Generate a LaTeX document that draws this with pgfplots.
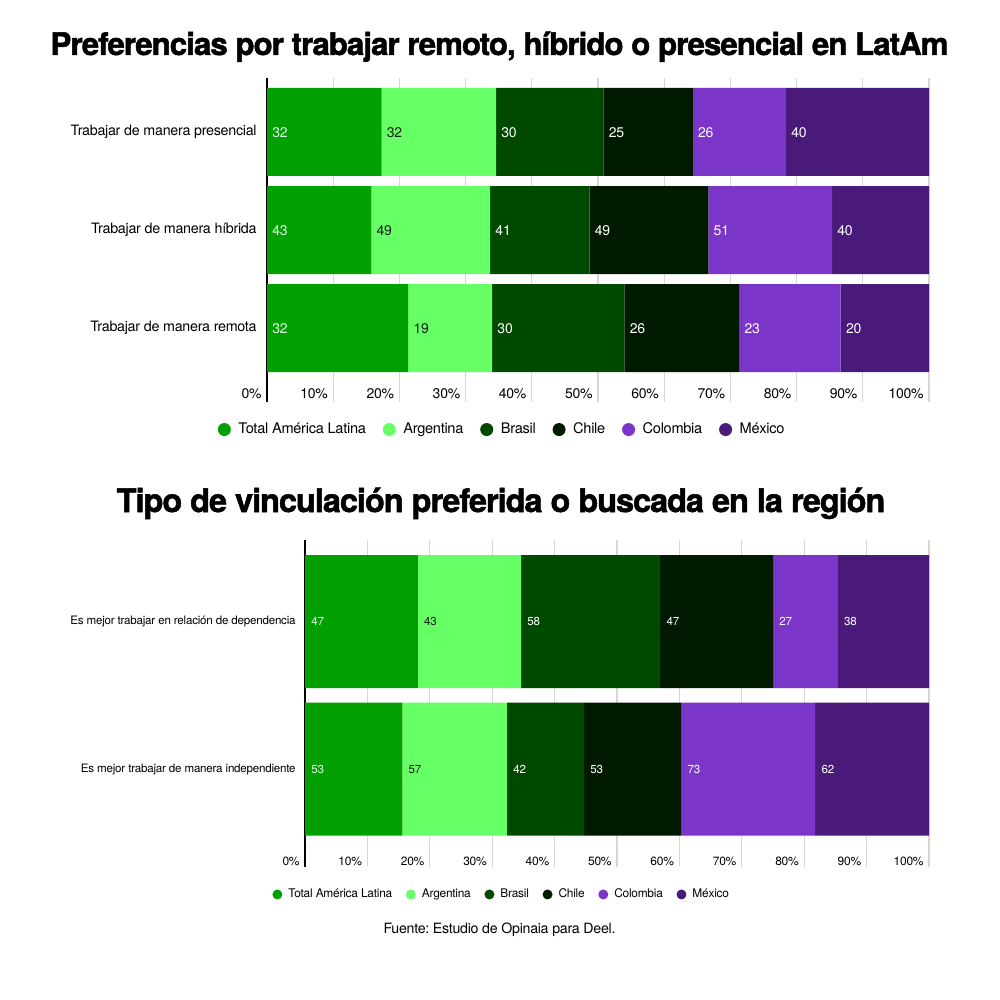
\documentclass[border=0pt]{standalone}
\usepackage{fontspec}
\setmainfont{TeX Gyre Heros}[LetterSpace=-2]
\newfontfamily\titlefont{TeX Gyre Heros}[LetterSpace=-3, FakeBold=1.6]
\usepackage{pgfplots}
\usepackage{pgfplotstable}
\pgfplotsset{compat=1.18}
\definecolor{cT}{RGB}{3,160,3}
\definecolor{cA}{RGB}{102,255,102}
\definecolor{cB}{RGB}{0,74,0}
\definecolor{cC}{RGB}{0,26,0}
\definecolor{cCo}{RGB}{123,53,200}
\definecolor{cM}{RGB}{74,26,122}
\definecolor{gridc}{RGB}{215,215,215}
\definecolor{lT}{RGB}{225,255,225}
\definecolor{lA}{RGB}{20,30,20}

\pgfplotstableread{
y t ar br cl co mx
0 32 19 30 26 23 20
1 43 49 41 49 51 40
2 32 32 30 25 26 40
}\dataA
\pgfplotstableread{
y t ar br cl co mx
0 53 57 42 53 73 62
1 47 43 58 47 27 38
}\dataB
\newcommand{\totr}{(\thisrow{t}+\thisrow{ar}+\thisrow{br}+\thisrow{cl}+\thisrow{co}+\thisrow{mx})}

\pgfplotsset{
  lgA/.style={legend image code/.code={\fill[##1,draw=none] (3.25pt,0pt) circle (3.25pt);}},
  lgB/.style={legend image code/.code={\fill[##1,draw=none] (2.5pt,0pt) circle (2.5pt);}},
  common/.style={
    scale only axis, xmin=0, xmax=100,
    /pgf/number format/assume math mode=true,
  },
  frame/.style={
    common,
    xbar stacked,
    axis lines*=left,
    x axis line style={draw=none},
    y axis line style={black, line width=1pt},
    major tick length=0pt,
    xtick={0,10,...,100},
    xticklabels={0\%,10\%,20\%,30\%,40\%,50\%,60\%,70\%,80\%,90\%,100\%},
    xmajorgrids, grid style={draw=gridc, line width=0.6pt},
  },
  over/.style={common, hide axis},
}

\begin{document}
\frenchspacing
\begin{tikzpicture}
\path[use as bounding box] (0,0) rectangle (500pt,-500pt);

\node[anchor=base, font=\titlefont\bfseries\fontsize{15.6}{18}\selectfont] at (249.75pt,-27.5pt) {Preferencias por trabajar remoto, híbrido o presencial en LatAm};
\node[anchor=base, font=\titlefont\bfseries\fontsize{16.2}{18}\selectfont] at (250.5pt,-256pt) {Tipo de vinculación preferida o buscada en la región};

% ---------------- Chart 1
\begin{axis}[frame,
  at={(133.5pt,-201pt)}, anchor=south west,
  width=331pt, height=162pt, bar width=44pt,
  ymin=-0.755, ymax=2.551,
  xticklabel style={anchor=south east, inner sep=0pt, xshift=-2.5pt, yshift=1.6pt, font=\fontsize{7}{8}\selectfont},
  ytick={0,1,2},
  yticklabels={Trabajar de manera remota, Trabajar de manera híbrida, Trabajar de manera presencial},
  yticklabel style={anchor=east, inner sep=0pt, xshift=-5pt, font=\fontsize{7.15}{9}\selectfont},
  legend columns=6,
  legend style={draw=none, fill=none, inner sep=0pt, at={(-0.0748,-0.0850)}, anchor=west,
    font=\fontsize{7.3}{9}\selectfont,
    /tikz/every odd column/.append style={column sep=1.8pt},
    /tikz/every even column/.append style={column sep=6.4pt}},
]
\addplot[fill=cT, draw=none, lgA] table[x expr=\thisrow{t}*100/\totr, y=y]{\dataA};
\addlegendentry{Total América Latina}
\addplot[fill=cA, draw=none, lgA] table[x expr=\thisrow{ar}*100/\totr, y=y]{\dataA};
\addlegendentry{Argentina}
\addplot[fill=cB, draw=none, lgA] table[x expr=\thisrow{br}*100/\totr, y=y]{\dataA};
\addlegendentry{Brasil}
\addplot[fill=cC, draw=none, lgA] table[x expr=\thisrow{cl}*100/\totr, y=y]{\dataA};
\addlegendentry{Chile}
\addplot[fill=cCo, draw=none, lgA] table[x expr=\thisrow{co}*100/\totr, y=y]{\dataA};
\addlegendentry{Colombia}
\addplot[fill=cM, draw=none, lgA] table[x expr=\thisrow{mx}*100/\totr, y=y]{\dataA};
\addlegendentry{México}
\end{axis}

\begin{axis}[over,
  at={(133.5pt,-201pt)}, anchor=south west,
  width=331pt, height=162pt,
  ymin=-0.755, ymax=2.551,
  every node near coord/.append style={anchor=west, inner sep=0pt, xshift=2.5pt, yshift=-0.4pt, font=\fontsize{7}{8}\selectfont},
]
\addplot[draw=none, mark=none, nodes near coords, point meta=explicit, every node near coord/.append style={text=lT}]
  table[x expr=0, y=y, meta=t]{\dataA};
\addplot[draw=none, mark=none, nodes near coords, point meta=explicit, every node near coord/.append style={text=lA}]
  table[x expr=\thisrow{t}*100/\totr, y=y, meta=ar]{\dataA};
\addplot[draw=none, mark=none, nodes near coords, point meta=explicit, every node near coord/.append style={text=white}]
  table[x expr=(\thisrow{t}+\thisrow{ar})*100/\totr, y=y, meta=br]{\dataA};
\addplot[draw=none, mark=none, nodes near coords, point meta=explicit, every node near coord/.append style={text=white}]
  table[x expr=(\thisrow{t}+\thisrow{ar}+\thisrow{br})*100/\totr, y=y, meta=cl]{\dataA};
\addplot[draw=none, mark=none, nodes near coords, point meta=explicit, every node near coord/.append style={text=white}]
  table[x expr=(\thisrow{t}+\thisrow{ar}+\thisrow{br}+\thisrow{cl})*100/\totr, y=y, meta=co]{\dataA};
\addplot[draw=none, mark=none, nodes near coords, point meta=explicit, every node near coord/.append style={text=white}]
  table[x expr=(\thisrow{t}+\thisrow{ar}+\thisrow{br}+\thisrow{cl}+\thisrow{co})*100/\totr, y=y, meta=mx]{\dataA};
\end{axis}

% ---------------- Chart 2
\begin{axis}[frame,
  at={(152.5pt,-433.5pt)}, anchor=south west,
  width=312pt, height=163.5pt, bar width=66.5pt,
  ymin=-0.664, ymax=1.553,
  xticklabel style={anchor=south east, inner sep=0pt, xshift=-2.5pt, yshift=0.3pt, font=\fontsize{6}{7}\selectfont},
  ytick={0,1},
  yticklabels={Es mejor trabajar de manera independiente, Es mejor trabajar en relación de dependencia},
  yticklabel style={anchor=east, inner sep=0pt, xshift=-4.5pt, font=\fontsize{5.8}{7}\selectfont},
  legend columns=6,
  legend style={draw=none, fill=none, inner sep=0pt, at={(-0.0529,-0.0840)}, anchor=west,
    font=\fontsize{5.95}{7}\selectfont,
    /tikz/every odd column/.append style={column sep=1pt},
    /tikz/every even column/.append style={column sep=4.8pt}},
]
\addplot[fill=cT, draw=none, lgB] table[x expr=\thisrow{t}*100/\totr, y=y]{\dataB};
\addlegendentry{Total América Latina}
\addplot[fill=cA, draw=none, lgB] table[x expr=\thisrow{ar}*100/\totr, y=y]{\dataB};
\addlegendentry{Argentina}
\addplot[fill=cB, draw=none, lgB] table[x expr=\thisrow{br}*100/\totr, y=y]{\dataB};
\addlegendentry{Brasil}
\addplot[fill=cC, draw=none, lgB] table[x expr=\thisrow{cl}*100/\totr, y=y]{\dataB};
\addlegendentry{Chile}
\addplot[fill=cCo, draw=none, lgB] table[x expr=\thisrow{co}*100/\totr, y=y]{\dataB};
\addlegendentry{Colombia}
\addplot[fill=cM, draw=none, lgB] table[x expr=\thisrow{mx}*100/\totr, y=y]{\dataB};
\addlegendentry{México}
\end{axis}

\begin{axis}[over,
  at={(152.5pt,-433.5pt)}, anchor=south west,
  width=312pt, height=163.5pt,
  ymin=-0.664, ymax=1.553,
  every node near coord/.append style={anchor=west, inner sep=0pt, xshift=3pt, font=\fontsize{5.8}{7}\selectfont},
]
\addplot[draw=none, mark=none, nodes near coords, point meta=explicit, every node near coord/.append style={text=lT}]
  table[x expr=0, y=y, meta=t]{\dataB};
\addplot[draw=none, mark=none, nodes near coords, point meta=explicit, every node near coord/.append style={text=lA}]
  table[x expr=\thisrow{t}*100/\totr, y=y, meta=ar]{\dataB};
\addplot[draw=none, mark=none, nodes near coords, point meta=explicit, every node near coord/.append style={text=white}]
  table[x expr=(\thisrow{t}+\thisrow{ar})*100/\totr, y=y, meta=br]{\dataB};
\addplot[draw=none, mark=none, nodes near coords, point meta=explicit, every node near coord/.append style={text=white}]
  table[x expr=(\thisrow{t}+\thisrow{ar}+\thisrow{br})*100/\totr, y=y, meta=cl]{\dataB};
\addplot[draw=none, mark=none, nodes near coords, point meta=explicit, every node near coord/.append style={text=white}]
  table[x expr=(\thisrow{t}+\thisrow{ar}+\thisrow{br}+\thisrow{cl})*100/\totr, y=y, meta=co]{\dataB};
\addplot[draw=none, mark=none, nodes near coords, point meta=explicit, every node near coord/.append style={text=white}]
  table[x expr=(\thisrow{t}+\thisrow{ar}+\thisrow{br}+\thisrow{cl}+\thisrow{co})*100/\totr, y=y, meta=mx]{\dataB};
\end{axis}

\node[anchor=base, font=\fontsize{7.1}{9}\selectfont] at (249.75pt,-466.5pt) {Fuente: Estudio de Opinaia para Deel.};
\end{tikzpicture}
\end{document}
